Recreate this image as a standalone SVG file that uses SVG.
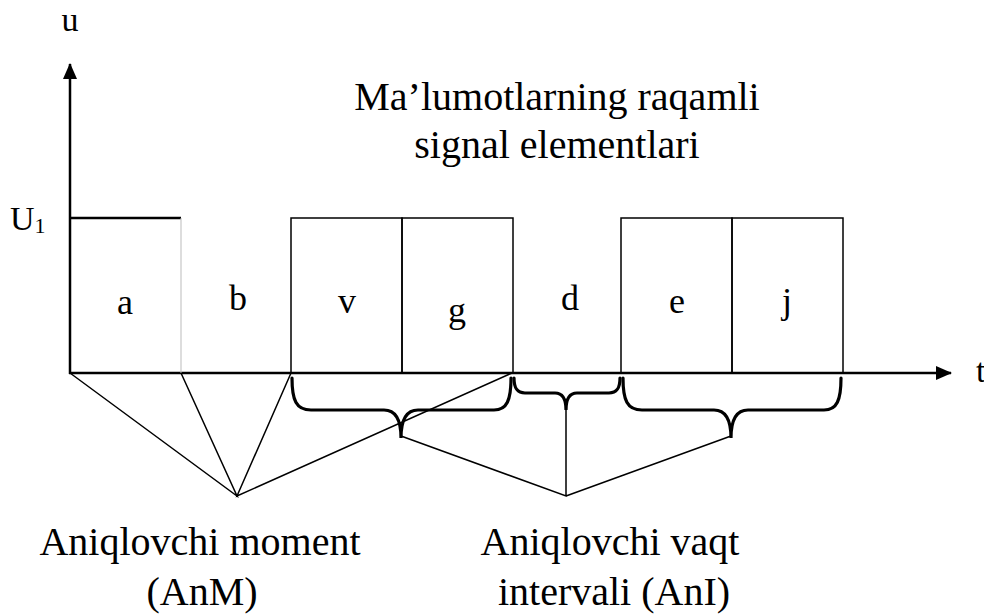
<svg xmlns="http://www.w3.org/2000/svg" width="984" height="614" viewBox="0 0 984 614">
<style>
.lbl{font-size:36px;text-anchor:middle}
.big{font-size:40px;text-anchor:middle}
.box{fill:none;stroke:#000;stroke-width:1.5}
.ln{fill:none;stroke:#000;stroke-width:1.5}
.br{fill:none;stroke:#000;stroke-width:3.2;stroke-linecap:round}
.ax{stroke:#000;stroke-width:2.5}
</style>
<defs>
<marker id="ah" markerWidth="16" markerHeight="14" refX="15" refY="7" orient="auto" markerUnits="userSpaceOnUse">
<path d="M0,0 L16,7 L0,14 Z" fill="#000"/>
</marker>
</defs>
<rect width="984" height="614" fill="#fff"/>
<g font-family="Liberation Serif, Times New Roman, serif" fill="#000">
<g id="axes">
<line class="ax" x1="70" y1="374" x2="70" y2="64" marker-end="url(#ah)"/>
<line class="ax" x1="69" y1="373" x2="951" y2="373" marker-end="url(#ah)"/>
<text x="70" y="31" font-size="34" text-anchor="middle">u</text>
<text x="10" y="230" font-size="34">U<tspan font-size="22" dy="3">1</tspan></text>
<text x="976" y="382" font-size="34">t</text>
</g>
<g id="title">
<text class="big" x="557" y="110">Ma’lumotlarning raqamli</text>
<text class="big" x="557" y="158">signal elementlari</text>
</g>
<g id="elem-a">
<line class="ax" x1="70" y1="218" x2="181" y2="218"/>
<line x1="181" y1="218" x2="181" y2="373" stroke="#bbb" stroke-width="1"/>
<text class="lbl" x="125" y="314">a</text>
</g>
<g id="elem-b"><text class="lbl" x="238" y="310">b</text></g>
<g id="elem-v"><rect class="box" x="291" y="218" width="111" height="155"/><text class="lbl" x="347" y="313">v</text></g>
<g id="elem-g"><rect class="box" x="402" y="218" width="111" height="155"/><text class="lbl" x="457" y="322">g</text></g>
<g id="elem-d"><text class="lbl" x="570" y="310">d</text></g>
<g id="elem-e"><rect class="box" x="621" y="218" width="111" height="155"/><text class="lbl" x="677" y="313">e</text></g>
<g id="elem-j"><rect class="box" x="732" y="218" width="111" height="155"/><text class="lbl" x="787" y="313">j</text></g>
<g id="connectors">
<path class="ln" d="M70,373 L237,496 L181,373 M291,373 L237,496 L512,373"/>
<path class="ln" d="M401,436 L566,496 L566,410 M566,496 L731,436"/>
<path class="br" d="M292,378 C292,400 296,410 311,410 L384,410 C396,410 401,420 401,438 C401,420 406,410 418,410 L494,410 C507,410 511,400 511,378"/>
<path class="br" d="M514,378 C514,388 517,393 525,393 L555,393 C562,393 566,398 566,410 C566,398 570,393 577,393 L609,393 C617,393 620,388 620,378"/>
<path class="br" d="M623,378 C623,400 627,410 642,410 L714,410 C726,410 731,420 731,438 C731,420 736,410 748,410 L824,410 C837,410 841,400 841,378"/>
</g>
<g id="captions">
<text class="big" x="200" y="555">Aniqlovchi moment</text>
<text class="big" x="202" y="605">(AnM)</text>
<text class="big" x="610" y="555">Aniqlovchi vaqt</text>
<text class="big" x="614" y="605">intervali (AnI)</text>
</g>
</g>
</svg>
